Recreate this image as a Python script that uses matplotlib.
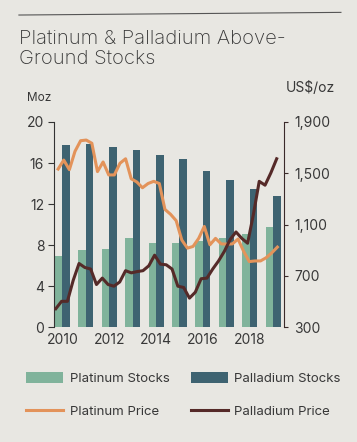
import numpy as np
import matplotlib.pyplot as plt
from matplotlib.lines import Line2D

plt.rcParams['font.family'] = ['Inter', 'DejaVu Sans']

years = np.arange(2010, 2020)
platinum_stocks = [6.9, 7.5, 7.6, 8.7, 8.2, 8.2, 8.4, 8.7, 9.1, 9.8]
palladium_stocks = [17.8, 17.9, 17.6, 17.3, 16.8, 16.4, 15.2, 14.3, 13.5, 12.8]

# price lines, read off roughly every quarter
platinum_price = [1533, 1603, 1528, 1671, 1754, 1759, 1734, 1513, 1588, 1487,
                  1487, 1578, 1613, 1457, 1432, 1387, 1420, 1437, 1420, 1218,
                  1180, 1130, 979, 916, 929, 992, 1085, 942, 992, 949,
                  947, 949, 987, 891, 811, 816, 816, 841, 879, 924]
palladium_price = [443, 501, 501, 665, 796, 765, 753, 632, 682, 632,
                   619, 652, 740, 723, 733, 740, 778, 861, 791, 786,
                   753, 619, 609, 526, 572, 677, 682, 753, 816, 891,
                   984, 1042, 992, 954, 1180, 1437, 1407, 1503, 1613]
pt_dates = np.linspace(2009.82, 2019.18, len(platinum_price))
pd_dates = np.linspace(2009.72, 2019.15, len(palladium_price))

bg = '#e8e7e2'
txt = '#383838'
c_pt = '#80b39b'
c_pd = '#3e6371'
c_ptp = '#e3935a'
c_pdp = '#552a28'

fig = plt.figure(figsize=(3.57, 4.42), dpi=100, facecolor=bg)
ax = fig.add_axes([0.151, 0.26, 0.645, 0.464], facecolor=bg)
ax2 = ax.twinx()

w = 0.32
b1 = ax.bar(years - w / 2, platinum_stocks, width=w, color=c_pt, label='Platinum Stocks')
b2 = ax.bar(years + w / 2, palladium_stocks, width=w, color=c_pd, label='Palladium Stocks')
l1, = ax2.plot(pt_dates, platinum_price, color=c_ptp, lw=2.2, label='Platinum Price')
l2, = ax2.plot(pd_dates, palladium_price, color=c_pdp, lw=2.2, label='Palladium Price')

ax.set_xlim(2009.64, 2019.47)
ax.set_ylim(0, 20)
ax2.set_ylim(300, 1900)
ax.set_yticks([0, 4, 8, 12, 16, 20])
ax2.set_yticks([300, 700, 1100, 1500, 1900])
ax2.set_yticklabels(['300', '700', '1,100', '1,500', '1,900'])
ax.set_xticks([2010, 2012, 2014, 2016, 2018])

for a in (ax, ax2):
    for s in a.spines.values():
        s.set_visible(False)
ax.spines['left'].set_visible(True)
ax.spines['left'].set_color('#333333')
ax2.spines['right'].set_visible(True)
ax2.spines['right'].set_color('#3a2a2a')
ax.tick_params(axis='y', length=4, color='#333333', labelsize=10, labelcolor=txt, pad=3)
ax.tick_params(axis='x', length=0, labelsize=10, labelcolor=txt, pad=4)
ax2.tick_params(axis='y', length=3, color='#3a2a2a', labelsize=10, labelcolor=txt, pad=4)

fig.text(0.075, 0.772, 'Moz', fontsize=8.5, color=txt)
fig.text(0.8, 0.792, 'US$/oz', fontsize=10, color=txt)
fig.text(0.053, 0.855, 'Platinum & Palladium Above-\nGround Stocks', fontsize=14.5,
         color=txt, linespacing=1.15, fontweight='light')
fig.add_artist(Line2D([0.053, 0.955], [0.966, 0.972], color='#555555', lw=0.8))

fig.legend([b1, l1, b2, l2],
           ['Platinum Stocks', 'Platinum Price', 'Palladium Stocks', 'Palladium Price'],
           ncol=2, loc='upper left', bbox_to_anchor=(0.04, 0.185), frameon=False,
           fontsize=9.5, labelcolor=txt, handlelength=2.8, handleheight=0.9,
           columnspacing=1.6, handletextpad=0.5, labelspacing=1.5)

fig.savefig('out.png', dpi=100, facecolor=bg)
